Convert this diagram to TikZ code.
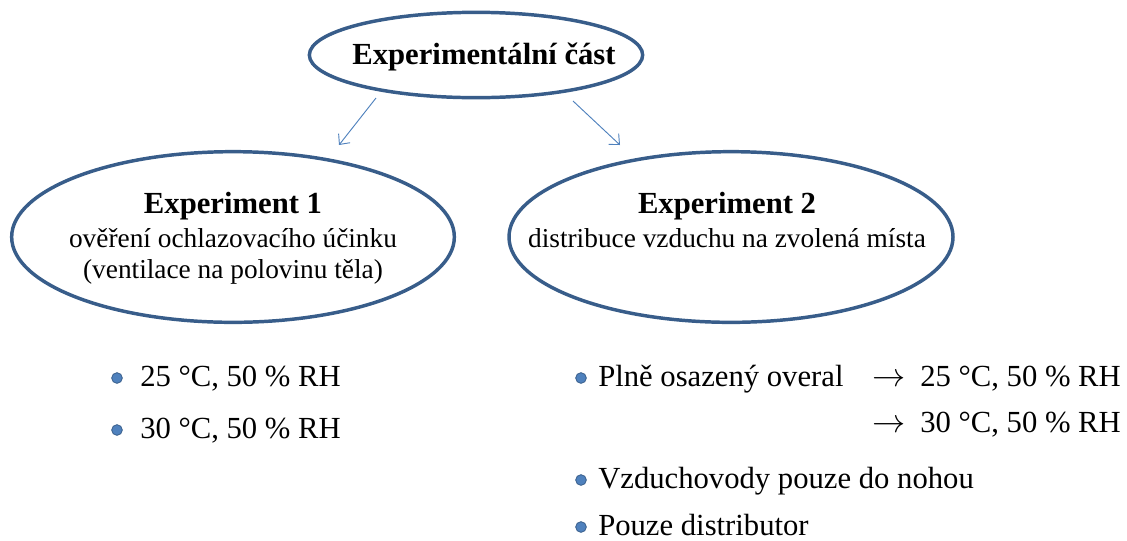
\documentclass[tikz,border=0pt]{standalone}
\usepackage{fontspec}
\setmainfont{Liberation Serif}
\usetikzlibrary{shapes.geometric,arrows.meta}
\definecolor{ovalline}{RGB}{56,93,138}
\definecolor{accent}{RGB}{79,129,189}
\tikzset{
  oval/.style={draw=ovalline, line width=2.6pt, ellipse, inner sep=0pt},
  head/.style={anchor=base, inner sep=0pt, font=\fontsize{23}{27}\selectfont\bfseries},
  sub/.style={anchor=base, inner sep=0pt, font=\fontsize{20.5}{25}\selectfont},
  item/.style={anchor=base west, inner sep=0pt, font=\fontsize{23}{27}\selectfont},
  dot/.style={circle, fill=accent, draw=ovalline, line width=0.6pt, inner sep=0pt, minimum size=8pt},
  link/.style={draw=accent, line width=0.7pt, -{Straight Barb[length=6pt,width=11pt]}}
}
\begin{document}
\begin{tikzpicture}
[x=0.75pt,y=-0.75pt]
\useasboundingbox (0,0) rectangle (1127,540);

% ovals
\node[oval, minimum width=250pt, minimum height=64pt] (top) at (476,55) {};
\node[oval, minimum width=332pt, minimum height=128pt] (e1) at (233,237) {};
\node[oval, minimum width=333pt, minimum height=128pt] (e2) at (731,237) {};

\node[head] (t0) at (484,64) {Experimentální část};
\node[head] (t1) at (233,213) {Experiment 1};
\node[sub] (t1a) at (233,247) {ověření ochlazovacího účinku};
\node[sub] (t1b) at (233,278) {(ventilace na polovinu těla)};
\node[head] (t2) at (727,213) {Experiment 2};
\node[sub] (t2a) at (727,247) {distribuce vzduchu na zvolená místa};

% arrows
\coordinate (a1) at (376,98);
\coordinate (a2) at (339,145);
\coordinate (b1) at (573,101);
\coordinate (b2) at (620,145);
\draw[link] (a1) -- (a2);
\draw[link] (b1) -- (b2);

% left list
\node[dot] (d1) at (117,378) {};
\node[item] (l1) at (140,386) {25 °C, 50 \% RH};
\node[dot] (d2) at (117,430) {};
\node[item] (l2) at (140,438) {30 °C, 50 \% RH};

% right list
\node[dot] (d3) at (581,378) {};
\node[item] (r1) at (598,386) {Plně osazený overal};
\node[item] (r1s) at (872,386) {$\rightarrow$};
\node[item] (r1t) at (920,386) {25 °C, 50 \% RH};
\node[item] (r2s) at (872,432) {$\rightarrow$};
\node[item] (r2t) at (920,432) {30 °C, 50 \% RH};
\node[dot] (d4) at (581,480) {};
\node[item] (r3) at (598,488) {Vzduchovody pouze do nohou};
\node[dot] (d5) at (581,527) {};
\node[item] (r4) at (598,535) {Pouze distributor};
\end{tikzpicture}
\end{document}
